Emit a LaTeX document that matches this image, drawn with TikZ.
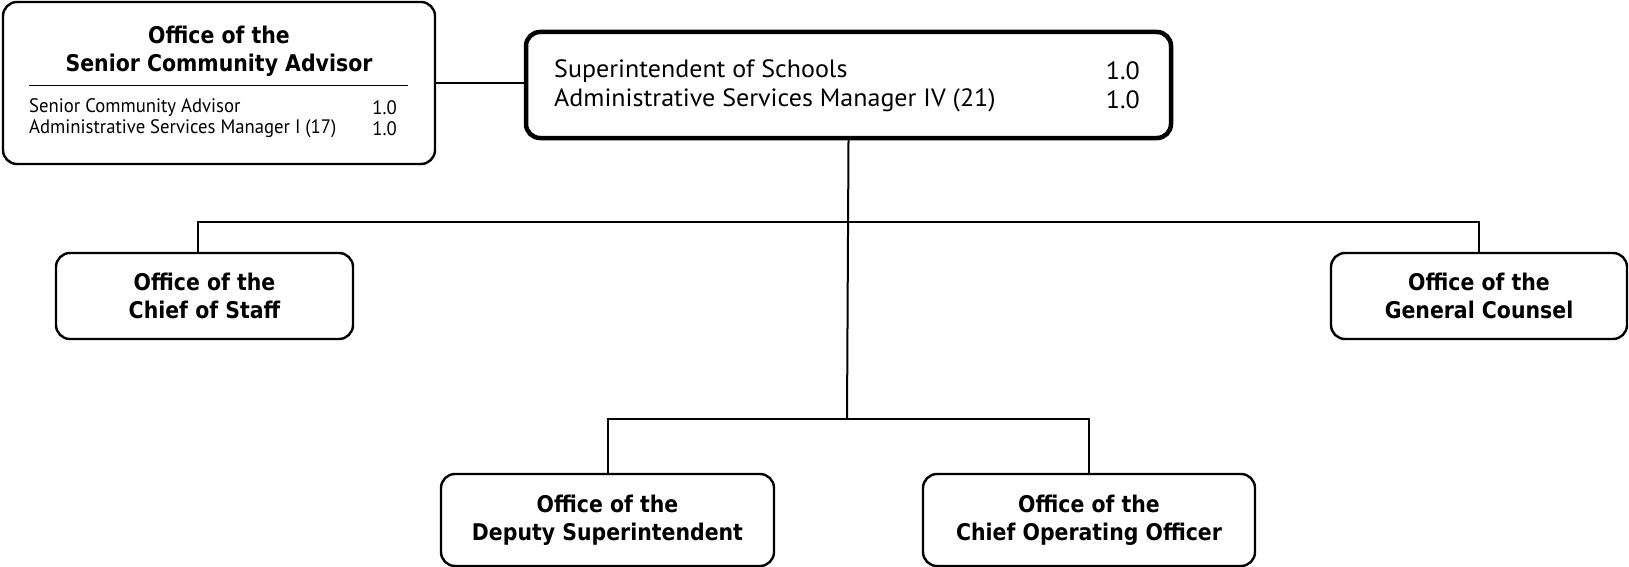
\documentclass[tikz,border=0pt]{standalone}
\usepackage{fontspec}
\setmainfont{PT Sans}
\newfontfamily\titlefont[FakeStretch=0.89]{DejaVu Sans}
\newfontfamily\bodyfont[FakeStretch=1.04]{PT Sans}
\newfontfamily\smallfont[FakeStretch=0.96]{PT Sans}
\begin{document}
\begin{tikzpicture}[x=1pt,y=-1pt,
  office/.style={draw=black, line width=2.4pt, rounded corners=14pt, fill=white, inner sep=0pt},
  title/.style={font=\titlefont\fontsize{23}{28}\selectfont\bfseries, align=center, inner sep=0pt},
  bodyl/.style={font=\bodyfont\fontsize{25}{29}\selectfont, anchor=west, inner sep=0pt},
  bodyr/.style={font=\bodyfont\fontsize{25}{29}\selectfont, anchor=east, inner sep=0pt},
  smalll/.style={font=\smallfont\fontsize{19.5}{20}\selectfont, anchor=west, inner sep=0pt},
  smallr/.style={font=\smallfont\fontsize{19.5}{20}\selectfont, anchor=east, inner sep=0pt},
  link/.style={draw=black, line width=2pt}]
\useasboundingbox (0,0) rectangle (1629,567);
% boxes
\node[office, minimum width=432pt, minimum height=162pt] (sca) at (219,83) {};
\node[office, line width=4.5pt, minimum width=645pt, minimum height=106pt] (supt) at (848.5,85) {};
\node[office, minimum width=297pt, minimum height=86pt] (cos) at (204.5,296) {};
\node[office, minimum width=296pt, minimum height=86pt] (gc) at (1479,296) {};
\node[office, minimum width=333pt, minimum height=92pt] (dep) at (607.5,520) {};
\node[office, minimum width=332pt, minimum height=92pt] (coo) at (1089,520) {};
% SCA content
\node[title] (scat) at (219,51) {Office of the\\Senior Community Advisor};
\coordinate (rl) at (29,86);
\coordinate (rr) at (408,86);
\draw[line width=1pt] (rl) -- (rr);
\node[smalll] (sca1) at (29,108) {Senior Community Advisor};
\node[smallr] (sca1v) at (397,108) {1.0};
\node[smalll] (sca2) at (29,129) {Administrative Services Manager I (17)};
\node[smallr] (sca2v) at (397,129) {1.0};
% Superintendent content
\node[bodyl] (sup1) at (554,71) {Superintendent of Schools};
\node[bodyr] (sup1v) at (1140,71) {1.0};
\node[bodyl] (sup2) at (554,100) {Administrative Services Manager IV (21)};
\node[bodyr] (sup2v) at (1140,100) {1.0};
% other titles
\node[title] (cost) at (cos.center) {Office of the\\Chief of Staff};
\node[title] (gct) at (gc.center) {Office of the\\General Counsel};
\node[title] (dept) at (dep.center) {Office of the\\Deputy Superintendent};
\node[title] (coot) at (coo.center) {Office of the\\Chief Operating Officer};
% connectors
\coordinate (j1) at (847,222);
\coordinate (j2) at (847,419);
\draw[link] (sca.east) -- (sca.east -| supt.west);
\draw[link] (supt.south) -- (j2);
\draw[link] ([xshift=-7pt]cos.north) |- (j1) -| (gc.north);
\draw[link] (dep.north) |- (j2) -| (coo.north);
\end{tikzpicture}
\end{document}
